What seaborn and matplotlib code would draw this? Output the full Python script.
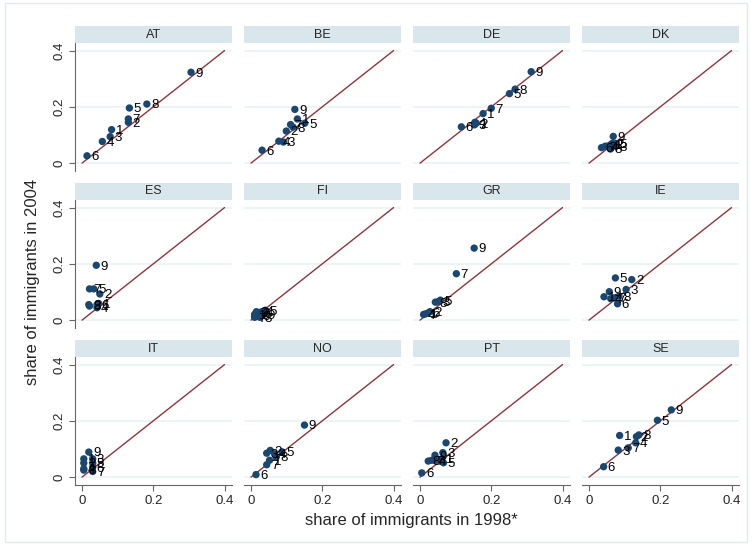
import pandas as pd
import matplotlib
matplotlib.use("Agg")
import matplotlib.pyplot as plt
import seaborn as sns
from matplotlib.patches import Rectangle

# Data
countries = ["AT", "BE", "DE", "DK", "ES", "FI", "GR", "IE", "IT", "NO", "PT", "SE"]
regions = [1, 2, 3, 4, 5, 6, 7, 8, 9]

at_1998 = [0.083, 0.130, 0.079, 0.057, 0.133, 0.014, 0.130, 0.182, 0.306]
at_2004 = [0.119, 0.145, 0.094, 0.077, 0.196, 0.026, 0.157, 0.210, 0.323]
be_1998 = [0.130, 0.099, 0.091, 0.078, 0.151, 0.031, 0.111, 0.118, 0.123]
be_2004 = [0.157, 0.114, 0.075, 0.078, 0.142, 0.046, 0.137, 0.128, 0.191]
de_1998 = [0.177, 0.158, 0.153, 0.154, 0.251, 0.116, 0.200, 0.267, 0.312]
de_2004 = [0.176, 0.142, 0.136, 0.145, 0.247, 0.129, 0.195, 0.263, 0.325]
dk_1998 = [0.060, 0.065, 0.075, 0.050, 0.075, 0.035, 0.045, 0.060, 0.068]
dk_2004 = [0.065, 0.070, 0.060, 0.060, 0.070, 0.055, 0.060, 0.050, 0.095]
es_1998 = [0.047, 0.050, 0.019, 0.042, 0.033, 0.042, 0.021, 0.021, 0.040]
es_2004 = [0.059, 0.093, 0.055, 0.044, 0.111, 0.055, 0.111, 0.050, 0.195]
fi_1998 = [0.010, 0.015, 0.020, 0.030, 0.040, 0.020, 0.010, 0.025, 0.035]
fi_2004 = [0.020, 0.030, 0.025, 0.030, 0.035, 0.015, 0.010, 0.010, 0.020]
gr_1998 = [0.015, 0.028, 0.050, 0.010, 0.057, 0.022, 0.102, 0.043, 0.152]
gr_2004 = [0.022, 0.030, 0.065, 0.020, 0.071, 0.025, 0.165, 0.064, 0.256]
ie_1998 = [0.042, 0.120, 0.104, 0.061, 0.074, 0.080, 0.070, 0.084, 0.057]
ie_2004 = [0.083, 0.144, 0.109, 0.076, 0.150, 0.058, 0.079, 0.085, 0.101]
it_1998 = [0.005, 0.005, 0.030, 0.005, 0.030, 0.030, 0.030, 0.005, 0.019]
it_2004 = [0.065, 0.050, 0.065, 0.030, 0.050, 0.035, 0.020, 0.025, 0.089]
no_1998 = [0.052, 0.054, 0.044, 0.066, 0.087, 0.014, 0.044, 0.071, 0.150]
no_2004 = [0.060, 0.095, 0.085, 0.083, 0.090, 0.009, 0.044, 0.072, 0.185]
pt_1998 = [0.061, 0.073, 0.064, 0.042, 0.066, 0.005, 0.033, 0.023, 0.042]
pt_2004 = [0.065, 0.122, 0.087, 0.060, 0.051, 0.015, 0.060, 0.057, 0.078]
se_1998 = [0.086, 0.133, 0.082, 0.131, 0.192, 0.041, 0.110, 0.140, 0.231]
se_2004 = [0.148, 0.144, 0.096, 0.122, 0.202, 0.037, 0.104, 0.150, 0.239]

x_lists = [at_1998, be_1998, de_1998, dk_1998, es_1998, fi_1998,
           gr_1998, ie_1998, it_1998, no_1998, pt_1998, se_1998]
y_lists = [at_2004, be_2004, de_2004, dk_2004, es_2004, fi_2004,
           gr_2004, ie_2004, it_2004, no_2004, pt_2004, se_2004]

rows = []
for c, xs, ys in zip(countries, x_lists, y_lists):
    for r, x, y in zip(regions, xs, ys):
        rows.append({"country": c, "region": r, "s1998": x, "s2004": y})
df = pd.DataFrame(rows)

DOT = "#1a476f"
LINE = "#90353b"
GRID = "#eaf2f3"
STRIP = "#d9e6eb"
AXIS = "#666666"

sns.set_style("white")
plt.rcParams["font.family"] = ["Liberation Sans", "DejaVu Sans"]

g = sns.FacetGrid(df, col="country", col_wrap=4, col_order=countries,
                  sharex=True, sharey=True, despine=False)
g.map_dataframe(sns.scatterplot, x="s1998", y="s2004", color=DOT,
                s=28, edgecolor="none", zorder=3)

fig = g.figure
fig.set_size_inches(7.53, 5.48)
fig.subplots_adjust(left=75 / 753, right=739 / 753, top=1 - 43 / 548,
                    bottom=1 - 485 / 548, wspace=12 / 157, hspace=29 / 128)

strip_h = 17 / 128
axes = g.axes.flatten()
for i, (ax, c) in enumerate(zip(axes, countries)):
    sub = df[df["country"] == c]
    ax.plot([0, 0.4], [0, 0.4], color=LINE, lw=1, zorder=2)
    for _, p in sub.iterrows():
        ax.annotate(str(p["region"]), (p["s1998"], p["s2004"]),
                    xytext=(3, -1), textcoords="offset points",
                    ha="left", va="center", fontsize=9.5, color="black", zorder=4)
    ax.set_xlim(-0.0197, 0.421)
    ax.set_ylim(-0.028, 0.427)
    for yv in [0, 0.2, 0.4]:
        ax.axhline(yv, color=GRID, lw=1.2, zorder=1)
    ax.set_title("")
    ax.set_xlabel("")
    ax.set_ylabel("")
    ax.add_patch(Rectangle((0, 1.0), 1, strip_h, transform=ax.transAxes,
                           facecolor=STRIP, edgecolor="none", clip_on=False))
    ax.text(0.5, 1.0 + strip_h / 2, c, transform=ax.transAxes, ha="center",
            va="center", fontsize=9)

    left_col = i % 4 == 0
    bottom_row = i >= 8
    for s in ["top", "right"]:
        ax.spines[s].set_visible(False)
    ax.spines["left"].set_visible(left_col)
    ax.spines["bottom"].set_visible(bottom_row)
    ax.spines["left"].set_color(AXIS)
    ax.spines["bottom"].set_color(AXIS)
    ax.set_xticks([0, 0.2, 0.4])
    ax.set_yticks([0, 0.2, 0.4])
    ax.tick_params(axis="x", bottom=bottom_row, labelbottom=bottom_row,
                   length=4, color=AXIS, labelsize=9.5, pad=3)
    ax.tick_params(axis="y", left=left_col, labelleft=left_col,
                   length=4, color=AXIS, labelsize=9.5, pad=3)
    if bottom_row:
        ax.set_xticklabels(["0", "0.2", "0.4"])
    if left_col:
        ax.set_yticklabels(["0", "0.2", "0.4"], rotation=90, va="center")

fig.text(33 / 753, 1 - 282 / 548, "share of immigrants in 2004", rotation=90,
         ha="center", va="center", fontsize=12)
fig.text(411 / 753, 1 - 521 / 548, "share of immigrants in 1998*",
         ha="center", va="center", fontsize=12)

fig.patches.append(Rectangle((5 / 753, 6 / 548), 742 / 753, 539 / 548,
                             transform=fig.transFigure, fill=False,
                             edgecolor="#e3eaee", lw=1))

fig.savefig("out.png", dpi=100)
